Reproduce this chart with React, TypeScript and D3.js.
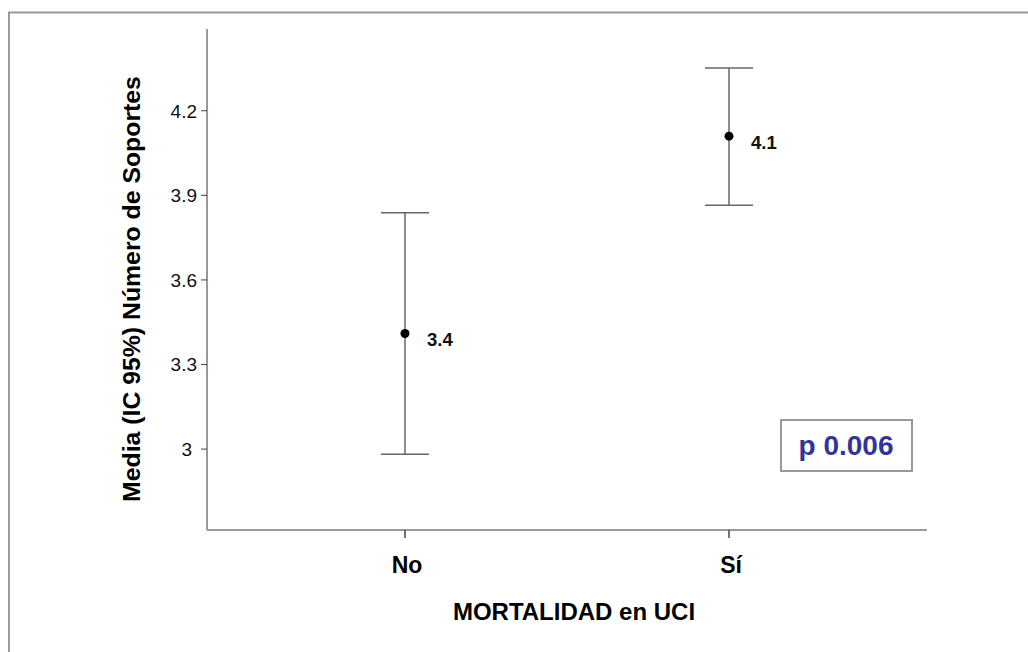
import React from "react";
import * as d3 from "d3";

const categories = ["No", "Sí"];
const means = [3.41, 4.11];
const lowerCI = [2.982, 3.865];
const upperCI = [3.838, 4.352];
const valueLabels = ["3.4", "4.1"];
const yTicks = [3, 3.3, 3.6, 3.9, 4.2];
const yTickLabels = ["3", "3.3", "3.6", "3.9", "4.2"];
const pText = "p 0.006";

const FONT = "'Liberation Sans', Arial, Helvetica, sans-serif";

export default function App() {
  const W = 1028;
  const H = 652;
  const left = 207, right = 927, top = 29, bottom = 530;
  const y = d3.scaleLinear().domain([2.713, 4.49]).range([bottom, top]);
  const x = d3.scalePoint<string>().domain(categories).range([left, right]).padding(0.611);
  const cap = 24;

  return (
    <svg
      width={W}
      height={H}
      style={{ position: "absolute", left: 0, top: 0, background: "#fff" }}
      fontFamily={FONT}
    >
      <rect x={0} y={0} width={W} height={H} fill="#fff" />
      {/* outer frame */}
      <path d={`M9,${H + 5} L9,12.5 L${W + 5},12.5`} fill="none" stroke="#9a9a9a" strokeWidth={2} />

      {/* axes */}
      <line x1={left} y1={top} x2={left} y2={bottom} stroke="#999" strokeWidth={2} />
      <line x1={left} y1={bottom} x2={right} y2={bottom} stroke="#999" strokeWidth={2} />

      {yTicks.map((t, i) => (
        <g key={t}>
          <line x1={left - 6} x2={left} y1={y(t)} y2={y(t)} stroke="#444" strokeWidth={1} />
          <text
            x={Number.isInteger(t) ? 192 : 197}
            y={y(t) + 6.8}
            textAnchor="end"
            fontSize={19}
            fill="#111"
          >
            {yTickLabels[i]}
          </text>
        </g>
      ))}

      {categories.map((c) => (
        <g key={c}>
          <line x1={x(c)!} x2={x(c)!} y1={bottom} y2={bottom + 8} stroke="#444" strokeWidth={1.5} />
          <text x={x(c)! + 2} y={573} textAnchor="middle" fontSize={23} fontWeight="bold" fill="#000">
            {c}
          </text>
        </g>
      ))}

      {/* error bars */}
      {categories.map((c, i) => {
        const cx = x(c)!;
        return (
          <g key={"eb" + c}>
            <line x1={cx} x2={cx} y1={y(upperCI[i])} y2={y(lowerCI[i])} stroke="#666" strokeWidth={1.5} />
            <line x1={cx - cap} x2={cx + cap} y1={y(upperCI[i])} y2={y(upperCI[i])} stroke="#666" strokeWidth={1.5} />
            <line x1={cx - cap} x2={cx + cap} y1={y(lowerCI[i])} y2={y(lowerCI[i])} stroke="#666" strokeWidth={1.5} />
            <circle cx={cx} cy={y(means[i])} r={4.5} fill="#000" />
            <text x={cx + 22} y={y(means[i]) + 13} fontSize={18.5} fontWeight="bold" fill="#111">
              {valueLabels[i]}
            </text>
          </g>
        );
      })}

      {/* axis titles */}
      <text x={574} y={620} textAnchor="middle" fontSize={24} fontWeight="bold" fill="#000">
        MORTALIDAD en UCI
      </text>
      <text
        transform={`translate(140,289) rotate(-90)`}
        textAnchor="middle"
        fontSize={24.8}
        fontWeight="bold"
        fill="#000"
      >
        Media (IC 95%) Número de Soportes
      </text>

      {/* p value box */}
      <rect x={781} y={420} width={131} height={51} fill="#fff" stroke="#999" strokeWidth={2} />
      <text x={846} y={455} textAnchor="middle" fontSize={28} fontWeight="bold" fill="#333399">
        {pText}
      </text>
    </svg>
  );
}
